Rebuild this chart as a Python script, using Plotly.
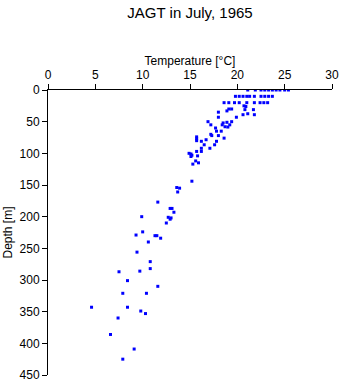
import plotly.graph_objects as go

# Temperature [°C] and depth [m]
temperature = [
    21.1, 21.9, 22.5, 22.9, 23.3, 23.7, 24.1, 24.5, 25.0, 25.4,
    19.8, 20.2, 20.6, 21.0, 21.3, 21.8, 22.5, 22.9, 23.3, 23.7,
    18.6, 19.1, 19.7, 20.2, 21.0, 21.8, 22.4, 22.8, 23.2,
    20.7, 20.9,
    19.1, 19.4, 20.8, 21.7,
    18.9, 18.0, 21.1, 20.6, 21.8,
    18.0, 19.9,
    16.9, 19.4,
    18.5, 18.9,
    17.2, 18.4, 19.2,
    18.7, 19.0, 17.7,
    17.8, 18.3, 17.2, 17.3, 18.0,
    15.7, 15.7, 18.6, 16.7, 15.7,
    16.2, 17.8, 16.5, 17.6, 16.2, 17.1,
    15.7, 16.2, 14.9, 15.1, 15.2, 15.8, 15.1,
    15.6, 15.9, 15.3, 15.2,
    13.6, 13.9, 13.7, 11.6, 12.9, 13.1, 13.3,
    9.9, 12.7, 13.0, 12.9, 12.5,
    10.0, 9.3, 11.3, 11.5, 11.9, 10.6, 9.4,
    10.8, 10.8, 7.5, 9.7, 8.4, 11.6, 7.9, 10.4,
    4.6, 8.4, 9.8, 10.3, 7.4, 6.6, 9.1, 7.9,
]
depth = [
    0, 0, 0, 0, 0, 0, 0, 0, 0, 0,
    10, 10, 10, 10, 10, 10, 10, 10, 10, 10,
    20, 20, 20, 20, 20, 20, 20, 20, 20,
    25, 26,
    30, 30, 31, 31,
    33, 35, 37.5, 39, 39,
    43, 43,
    50, 50,
    52, 51,
    55, 55, 55,
    58, 58.5, 60,
    65, 65, 70, 72, 72,
    74, 77, 76, 78.5, 80,
    81, 81, 86.5, 86.5, 92, 92,
    97, 97, 100, 101, 103, 104, 105,
    112, 115, 117, 144,
    154, 155, 161, 177, 187, 187, 193,
    200, 201, 202, 204, 210,
    224, 229, 230, 230, 234, 240, 256,
    271, 282, 287, 286, 301, 310, 321, 321,
    343, 343, 349, 353, 360, 386, 409, 425,
]

x_ticks = [0, 5, 10, 15, 20, 25, 30]
y_ticks = [0, 50, 100, 150, 200, 250, 300, 350, 400, 450]

font_family = "Liberation Sans, Arial, sans-serif"

fig = go.Figure(
    go.Scatter(
        x=temperature,
        y=depth,
        mode="markers",
        marker=dict(symbol="square", size=3, color="#0000FF", line=dict(width=0)),
        hoverinfo="x+y",
    )
)

fig.update_layout(
    width=341,
    height=384,
    margin=dict(l=48, r=9, t=90, b=9),
    paper_bgcolor="white",
    plot_bgcolor="white",
    showlegend=False,
    font=dict(family=font_family, size=12, color="black"),
    title=dict(
        text="JAGT in July, 1965",
        x=190 / 341,
        xanchor="center",
        xref="container",
        y=1 - 13 / 384,
        yref="container",
        yanchor="middle",
        font=dict(family=font_family, size=15, color="black"),
    ),
)

fig.update_xaxes(
    side="top",
    range=[0, 30],
    tickvals=x_ticks,
    ticktext=[str(v) for v in x_ticks],
    ticks="outside",
    ticklen=5,
    tickcolor="black",
    tickwidth=1,
    showline=True,
    linecolor="black",
    linewidth=1,
    showgrid=False,
    zeroline=False,
    automargin=False,
    title=dict(text="Temperature [°C]", standoff=0, font=dict(size=12)),
    tickfont=dict(size=12),
)
fig.update_yaxes(
    range=[450, 0],
    tickvals=y_ticks,
    ticktext=[str(v) for v in y_ticks],
    ticks="outside",
    ticklen=5,
    tickcolor="black",
    tickwidth=1,
    showline=True,
    linecolor="black",
    linewidth=1,
    showgrid=False,
    zeroline=False,
    automargin=False,
    title=dict(text="Depth [m]", standoff=4, font=dict(size=12)),
    tickfont=dict(size=12),
)

fig.write_html("out.html")
